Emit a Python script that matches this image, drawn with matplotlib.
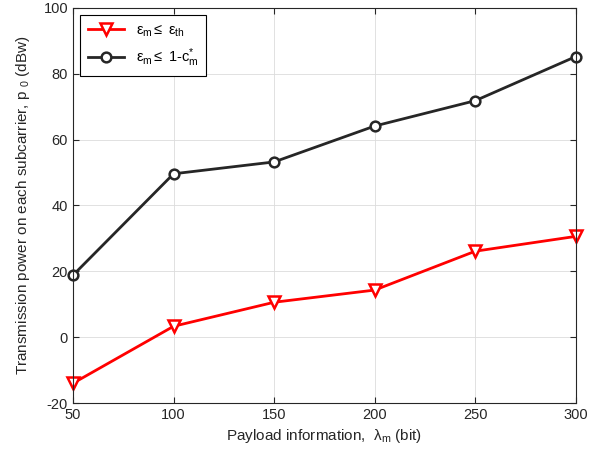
import numpy as np
import matplotlib.pyplot as plt

plt.rcParams['font.family'] = ['Liberation Sans', 'DejaVu Sans']
plt.rcParams['mathtext.fontset'] = 'custom'
plt.rcParams['mathtext.rm'] = 'Liberation Sans'
plt.rcParams['mathtext.it'] = 'Liberation Sans'
plt.rcParams['axes.unicode_minus'] = False

payload = [50, 100, 150, 200, 250, 300]
p_th = [-14.0, 3.3, 10.6, 14.3, 26.1, 30.6]
p_c = [18.8, 49.6, 53.2, 64.1, 71.8, 85.2]

txt = '#262626'

fig = plt.figure(figsize=(6.03, 4.58), dpi=100)
ax = fig.add_axes([0.121, 0.12, 0.834, 0.863])

ax.plot(payload, p_th, color='#ff0000', linewidth=2, marker='v', markersize=8,
        markerfacecolor='white', markeredgewidth=1.8, clip_on=False,
        label=r'$\epsilon_{\rm m}\leq\ \epsilon_{\rm th}$')
ax.plot(payload, p_c, color='#262626', linewidth=2, marker='o', markersize=7,
        markerfacecolor='white', markeredgewidth=1.8, clip_on=False,
        label=r'$\epsilon_{\rm m}\leq$ 1-c$^{*}_{\rm m}$')

ax.set_xlim(50, 300)
ax.set_ylim(-20, 100)
ax.set_xticks(np.arange(50, 301, 50))
ax.set_yticks(np.arange(-20, 101, 20))
ax.grid(True, color='#dcdcdc', linewidth=0.6)
ax.tick_params(direction='in', labelsize=10.5, length=4, top=True, right=True,
               colors=txt)
for s in ax.spines.values():
    s.set_linewidth(0.8)
    s.set_color(txt)

ax.set_xlabel(r'Payload information,  $\lambda_{\rm m}$ (bit)', fontsize=11, color=txt)
ax.set_ylabel(r'Transmission power on each subcarrier, p $_{\rm 0}$ (dBw)', fontsize=11,
              color=txt, labelpad=8)

leg = ax.legend(loc='upper left', fontsize=10.5, fancybox=False, edgecolor='black',
                framealpha=1, handlelength=2.5, borderpad=0.5)
leg.get_frame().set_linewidth(0.8)

fig.savefig('out.png', dpi=100)
